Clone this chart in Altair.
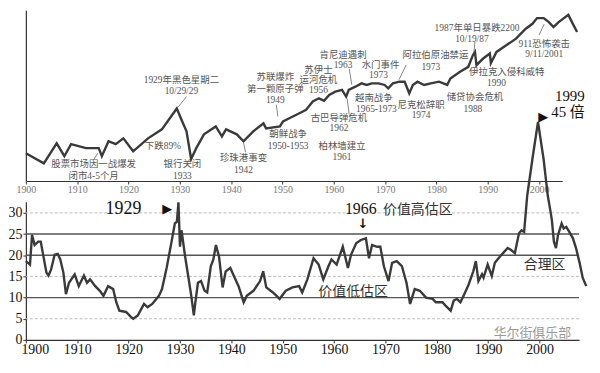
import altair as alt
import pandas as pd

FONT = "Liberation Serif, Noto Sans CJK SC"

# ---- Top panel: Dow Jones index (log scale) ----
dow_year = [1900.0, 1903.5, 1906.0, 1907.5, 1908.8, 1911.7, 1914.2, 1914.8, 1916.1, 1917.5,
            1919.0, 1920.9, 1923.8, 1926.5, 1929.4, 1930.3, 1931.3, 1932.2, 1933.2, 1934.7,
            1937.0, 1938.2, 1939.0, 1941.1, 1942.4, 1944.3, 1946.3, 1946.8, 1949.5, 1950.1,
            1952.0, 1953.3, 1954.6, 1955.9, 1957.1, 1958.1, 1959.1, 1960.3, 1961.6, 1962.4,
            1962.9, 1964.2, 1965.4, 1966.4, 1967.4, 1968.7, 1969.9, 1970.6, 1971.5, 1972.8,
            1973.8, 1974.7, 1975.4, 1976.3, 1977.6, 1978.9, 1980.5, 1982.1, 1982.7, 1984.6,
            1986.2, 1987.1, 1987.5, 1987.8, 1989.1, 1990.4, 1990.6, 1991.7, 1993.6, 1995.5,
            1997.4, 1998.7, 1999.6, 2000.9, 2001.9, 2002.8, 2003.8, 2005.7, 2006.4, 2007.4]
dow_value = [66, 45, 96, 59, 93, 80, 80, 59, 104, 93,
             116, 71, 116, 163, 358, 237, 151, 53, 80, 135,
             182, 125, 163, 135, 104, 151, 204, 169, 182, 220,
             265, 300, 341, 466, 527, 479, 600, 678, 723, 562,
             723, 818, 927, 873, 927, 927, 873, 768, 927, 988,
             988, 637, 873, 988, 873, 927, 988, 873, 1117, 1438,
             1734, 2692, 3048, 1850, 2372, 2862, 1995, 3048, 3917, 5022,
             7312, 8831, 10940, 10940, 9400, 7798, 9400, 12360, 9400, 6457]

# ---- Bottom panel: P/E ratio ----
pe_year = [1900.0, 1900.8, 1901.2, 1901.7, 1902.4, 1902.9, 1903.3, 1904.0, 1904.4, 1904.9,
           1905.6, 1906.2, 1906.7, 1907.3, 1907.8, 1908.4, 1909.5, 1910.3, 1911.3, 1911.9,
           1912.5, 1913.5, 1914.4, 1915.1, 1916.0, 1917.0, 1917.6, 1918.2, 1919.5, 1920.5,
           1920.9, 1921.8, 1923.0, 1923.7, 1924.6, 1925.9, 1926.5, 1927.4, 1928.3, 1929.0,
           1929.4, 1929.7, 1930.0, 1930.3, 1931.0, 1931.6, 1932.2, 1932.7, 1933.0, 1933.5,
           1934.1, 1934.8, 1935.3, 1936.0, 1936.5, 1937.0, 1937.6, 1938.3, 1938.9, 1939.8,
           1940.5, 1941.4, 1942.4, 1943.0, 1944.3, 1945.6, 1946.2, 1946.8, 1948.1, 1949.4,
           1950.6, 1951.9, 1953.2, 1953.8, 1954.8, 1956.0, 1957.0, 1957.9, 1958.9, 1959.5,
           1960.5, 1961.7, 1962.7, 1963.3, 1964.3, 1965.2, 1966.2, 1966.8, 1967.4, 1968.4,
           1969.0, 1969.7, 1970.6, 1971.3, 1972.2, 1973.2, 1974.1, 1974.8, 1975.7, 1976.7,
           1977.9, 1979.2, 1979.8, 1981.1, 1981.7, 1982.7, 1983.3, 1983.9, 1984.6, 1985.2,
           1986.2, 1987.1, 1987.6, 1988.1, 1988.8, 1989.1, 1989.9, 1990.7, 1991.3, 1992.3,
           1993.2, 1993.8, 1994.4, 1995.2, 1996.0, 1996.5, 1997.0, 1997.6, 1998.6, 1999.7,
           2000.8, 2001.6, 2002.1, 2002.4, 2002.8, 2003.2, 2003.6, 2004.3, 2004.7, 2005.2,
           2005.8, 2006.5, 2007.1, 2007.8, 2008.4, 2009.1]
pe_value = [18.6, 17.8, 24.8, 22.4, 23.2, 23.2, 20.5, 15.9, 15.2, 16.6,
            20.1, 20.3, 19.0, 15.9, 10.8, 13.5, 15.5, 12.7, 15.2, 13.5,
            14.3, 12.7, 11.6, 10.4, 12.7, 12.0, 8.9, 6.9, 6.6, 5.4,
            5.0, 5.8, 8.5, 7.7, 8.5, 10.4, 12.0, 17.0, 22.8, 27.5,
            27.9, 32.5, 22.0, 25.9, 19.7, 15.1, 10.4, 5.8, 8.9, 13.5,
            13.9, 11.6, 11.2, 17.4, 19.0, 22.4, 19.7, 12.4, 16.2, 17.0,
            15.1, 12.7, 8.9, 10.4, 11.6, 13.9, 16.2, 12.4, 11.2, 9.7,
            11.6, 12.4, 12.7, 11.2, 14.3, 19.3, 17.8, 14.3, 17.4, 19.0,
            17.8, 22.0, 17.0, 20.1, 22.8, 23.6, 24.0, 19.3, 22.4, 22.0,
            22.0, 17.4, 13.9, 18.2, 18.6, 17.4, 13.5, 8.5, 12.0, 11.6,
            10.0, 9.7, 8.9, 8.9, 8.1, 6.9, 9.3, 9.7, 8.9, 10.4,
            13.1, 16.2, 18.6, 13.9, 15.5, 14.7, 17.8, 15.1, 18.2, 19.7,
            20.9, 21.7, 21.3, 20.5, 25.2, 25.9, 25.5, 34.1, 42.6, 51.5,
            42.6, 34.1, 30.6, 28.3, 23.2, 21.7, 24.8, 27.5, 26.3, 26.7,
            25.5, 24.0, 21.7, 18.2, 14.7, 12.7]

decade_ticks = [1900, 1910, 1920, 1930, 1940, 1950, 1960, 1970, 1980, 1990, 2000]
pe_ticks = [0, 5, 10, 15, 20, 25, 30]
solid_levels = [10, 20, 25]
dashed_levels = [5, 15, 30]

# ---- Annotations (anchored in data coordinates) ----
top_note_text = ["股票市场因一战爆发", "闭市4-5个月", "1929年黑色星期二", "10/29/29", "下跌89%",
                 "银行关闭", "1933", "珍珠港事变", "1942", "苏联爆炸", "第一颗原子弹", "1949",
                 "朝鲜战争", "1950-1953", "苏伊士", "运河危机", "1956", "古巴导弹危机", "1962",
                 "柏林墙建立", "1961", "肯尼迪遇刺", "1963", "水门事件", "1973", "越南战争",
                 "1965-1973", "阿拉伯原油禁运", "1973", "尼克松辞职", "1974", "储贷协会危机", "1988",
                 "1987年单日暴跌2200", "10/19/87", "伊拉克入侵科威特", "1990", "911恐怖袭击", "9/11/2001"]
top_note_year = [1913.2, 1913.2, 1930.3, 1930.3, 1926.7,
                 1930.5, 1930.5, 1942.4, 1942.4, 1948.6, 1948.6, 1948.6,
                 1951.1, 1951.1, 1957.0, 1957.0, 1957.0, 1961.0, 1961.0,
                 1961.6, 1961.6, 1961.8, 1961.8, 1969.1, 1968.7, 1967.8,
                 1968.3, 1979.8, 1978.9, 1977.0, 1977.0, 1987.5, 1987.1,
                 1987.9, 1986.9, 1993.7, 1991.7, 2001.0, 2001.0]
top_note_value = [43.7, 27.9, 1064, 704, 86,
                  43.7, 27.9, 54.7, 34.9, 1191, 759, 502,
                  135, 86, 1550, 1064, 731, 246, 169,
                  86, 56.9, 2723, 1871, 1871, 1285, 541,
                  358, 2723, 1734, 416, 275, 562, 358,
                  7505, 4966, 1438, 951, 4115, 2827]

leader_year = [1914.0, 1931.3, 1942.4, 1948.8, 1962.6, 1963.0, 1974.1, 1987.5, 2000.0]
leader_value = [66, 562, 100, 416, 521, 1610, 1871, 4436, 5770]
leader_year2 = [1913.1, 1929.6, 1942.8, 1949.1, 1963.0, 1963.5, 1972.7, 1987.3, 2001.0]
leader_value2 = [50, 372, 68.6, 265, 286, 883, 1064, 3048, 8730]

bottom_note_text = ["1929", "▶", "1966", "↓", "价值高估区", "合理区", "价值低估区", "1999", "45 倍", "▶"]
bottom_note_year = [1919.0, 1927.5, 1965.2, 1965.6, 1976.3, 2001.0, 1963.7, 2008.8, 2008.8, 2000.7]
bottom_note_value = [31.0, 31.0, 31.0, 27.4, 30.6, 17.8, 11.3, 57.6, 53.7, 52.6]
bottom_note_kind = ["big", "mark", "mid", "mark", "zone", "zone", "zone", "peak", "peak", "mark"]

watermark_text = ["华尔街俱乐部"]
watermark_year = [1998.6]
watermark_value = [1.6]

# ---- data frames ----
dow_df = pd.DataFrame({"year": dow_year, "value": dow_value})
pe_df = pd.DataFrame({"year": pe_year, "value": pe_value})
top_notes = pd.DataFrame({"year": top_note_year, "value": top_note_value, "text": top_note_text})
leaders = pd.DataFrame({"year": leader_year, "value": leader_value,
                        "year2": leader_year2, "value2": leader_value2})
bottom_notes = pd.DataFrame({"year": bottom_note_year, "value": bottom_note_value,
                             "text": bottom_note_text, "kind": bottom_note_kind})
solid_df = pd.DataFrame({"value": solid_levels})
dashed_df = pd.DataFrame({"value": dashed_levels})
wm_df = pd.DataFrame({"year": watermark_year, "value": watermark_value, "text": watermark_text})

LINE_COLOR = "#3a3a3a"

# ---- top panel ----
x_top = alt.X("year:Q", scale=alt.Scale(domain=[1900, 2004.5], nice=False, zero=False),
              axis=alt.Axis(values=decade_ticks, format="d", grid=False, title=None,
                            labelFontSize=10, labelColor="#777", labelFont=FONT,
                            labelFlush=False, tickSize=3, labelPadding=1,
                            domainColor="#333", tickColor="#333", domainWidth=1.2))
y_top = alt.Y("value:Q", scale=alt.Scale(type="log", domain=[23.1, 14760], nice=False),
              axis=alt.Axis(labels=False, ticks=False, grid=False, title=None,
                            domainColor="#333", domainWidth=1.2))

top_line = alt.Chart(dow_df).mark_line(color=LINE_COLOR, strokeWidth=2.4, clip=False).encode(
    x=x_top, y=y_top)
top_text = alt.Chart(top_notes).mark_text(fontSize=9.5, color="#555", font=FONT).encode(
    x=x_top, y=y_top, text="text:N")
top_lead = alt.Chart(leaders).mark_rule(color="#666", strokeWidth=0.8).encode(
    x=x_top, y=y_top, x2="year2:Q", y2="value2:Q")

top = alt.layer(top_line, top_lead, top_text).properties(width=540, height=172)

# ---- bottom panel ----
x_bot = alt.X("year:Q", scale=alt.Scale(domain=[1900, 2007.7], nice=False, zero=False),
              axis=alt.Axis(values=decade_ticks, format="d", grid=False, title=None,
                            labelFontSize=14, labelColor="#111", labelFont=FONT,
                            labelFlush=True, labelFlushOffset=5, tickSize=3, labelPadding=0,
                            domainColor="#333", tickColor="#333", domainWidth=1.2))
y_bot = alt.Y("value:Q", scale=alt.Scale(domain=[0, 32.6], nice=False, zero=True),
              axis=alt.Axis(values=pe_ticks, grid=False, title=None,
                            labelFontSize=14, labelColor="#111", labelFont=FONT,
                            tickSize=3, labelPadding=1, domainColor="#333", tickColor="#333",
                            domainWidth=1.2))

dashed = alt.Chart(dashed_df).mark_rule(color="#bbbbbb", strokeWidth=1, strokeDash=[3, 2]).encode(
    y=y_bot)
solid = alt.Chart(solid_df).mark_rule(color="#555555", strokeWidth=1.4).encode(y=y_bot)
pe_line = alt.Chart(pe_df).mark_line(color=LINE_COLOR, strokeWidth=2.4, clip=False).encode(
    x=x_bot, y=y_bot)
wm = alt.Chart(wm_df).mark_text(fontSize=13, color="#9a9a9a", font="Noto Sans CJK SC").encode(
    x=x_bot, y=y_bot, text="text:N")

big = alt.Chart(bottom_notes).transform_filter(alt.datum.kind == "big").mark_text(
    fontSize=18, color="#111", font=FONT).encode(x=x_bot, y=y_bot, text="text:N")
peak = alt.Chart(bottom_notes).transform_filter(alt.datum.kind == "peak").mark_text(
    fontSize=15, color="#111", font=FONT, align="right").encode(x=x_bot, y=y_bot, text="text:N")
mid = alt.Chart(bottom_notes).transform_filter(alt.datum.kind == "mid").mark_text(
    fontSize=16, color="#111", font=FONT).encode(x=x_bot, y=y_bot, text="text:N")
zone = alt.Chart(bottom_notes).transform_filter(alt.datum.kind == "zone").mark_text(
    fontSize=14, color="#333", font=FONT).encode(x=x_bot, y=y_bot, text="text:N")
marks = alt.Chart(bottom_notes).transform_filter(alt.datum.kind == "mark").mark_text(
    fontSize=13, color="#111", fontWeight="bold", font="DejaVu Sans").encode(
    x=x_bot, y=y_bot, text="text:N")

bottom = alt.layer(dashed, solid, pe_line, wm, zone, big, peak, mid, marks).properties(
    width=557, height=139)

chart = alt.vconcat(top, bottom, spacing=21, bounds="flush", padding=0).resolve_scale(
    x="independent", y="independent").configure_view(stroke=None).properties(
    background="white")

chart.save("out.html", embed_options={"renderer": "svg", "actions": False})
